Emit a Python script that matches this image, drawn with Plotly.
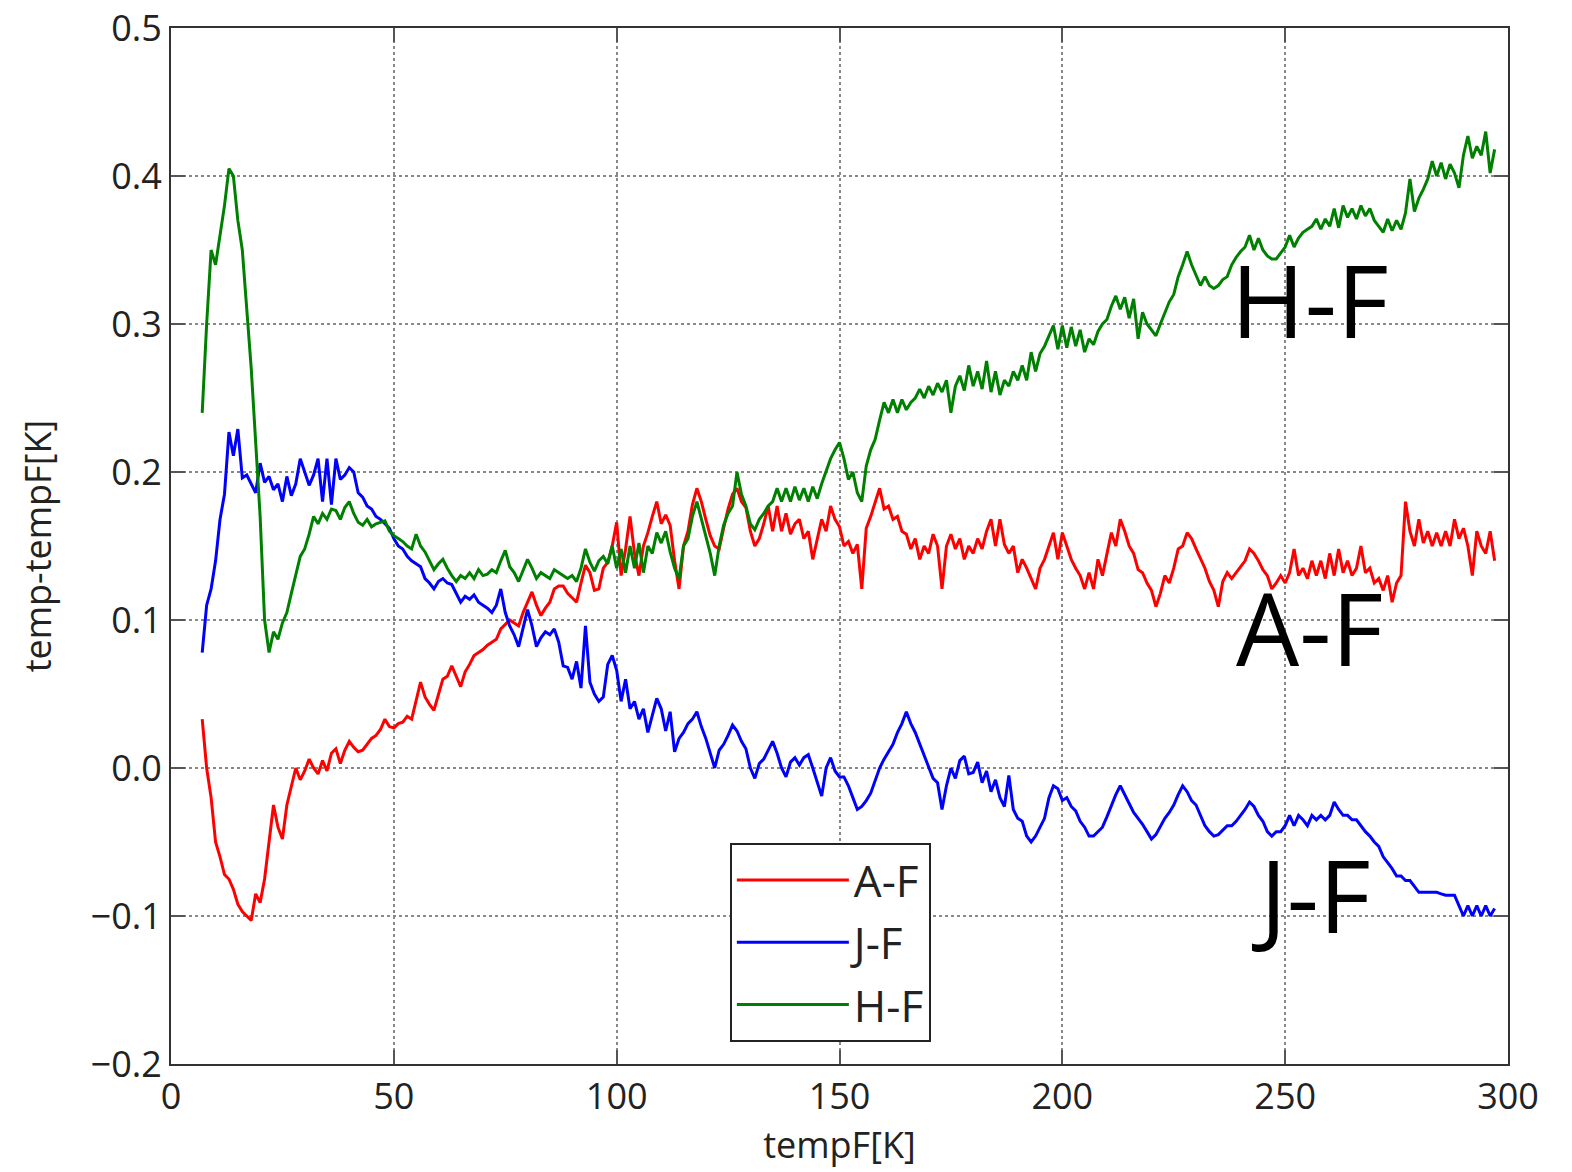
import plotly.graph_objects as go

# sample temperatures (K), one reading per kelvin
tempF = list(range(7, 298))

# temp - tempF differences
a_f = [
    0.033, 0.000, -0.020, -0.050, -0.060, -0.072, -0.075, -0.082, -0.092, -0.097,
    -0.100, -0.103, -0.085, -0.091, -0.075, -0.050, -0.025, -0.040, -0.048, -0.025,
    -0.013, 0.000, -0.008, -0.002, 0.006, 0.000, -0.004, 0.005, -0.002, 0.010,
    0.013, 0.003, 0.012, 0.018, 0.014, 0.011, 0.012, 0.016, 0.020, 0.022,
    0.026, 0.033, 0.028, 0.027, 0.030, 0.031, 0.035, 0.033, 0.045, 0.058,
    0.048, 0.043, 0.039, 0.050, 0.060, 0.062, 0.069, 0.062, 0.055, 0.065,
    0.070, 0.076, 0.078, 0.080, 0.083, 0.085, 0.087, 0.094, 0.097, 0.100,
    0.098, 0.096, 0.105, 0.112, 0.119, 0.110, 0.103, 0.108, 0.112, 0.121,
    0.123, 0.123, 0.118, 0.115, 0.112, 0.125, 0.137, 0.132, 0.120, 0.121,
    0.135, 0.139, 0.150, 0.166, 0.130, 0.148, 0.170, 0.145, 0.130, 0.150,
    0.159, 0.170, 0.180, 0.165, 0.171, 0.164, 0.140, 0.121, 0.150, 0.160,
    0.178, 0.189, 0.180, 0.168, 0.157, 0.150, 0.148, 0.162, 0.175, 0.185,
    0.189, 0.180, 0.176, 0.160, 0.150, 0.155, 0.165, 0.177, 0.160, 0.177,
    0.160, 0.172, 0.158, 0.165, 0.168, 0.155, 0.160, 0.141, 0.155, 0.168,
    0.160, 0.177, 0.168, 0.163, 0.150, 0.153, 0.145, 0.151, 0.121, 0.162,
    0.170, 0.180, 0.189, 0.175, 0.177, 0.168, 0.170, 0.160, 0.158, 0.148,
    0.155, 0.141, 0.150, 0.145, 0.158, 0.150, 0.121, 0.150, 0.158, 0.148,
    0.155, 0.141, 0.150, 0.145, 0.155, 0.148, 0.160, 0.168, 0.150, 0.168,
    0.151, 0.145, 0.150, 0.132, 0.141, 0.135, 0.128, 0.121, 0.135, 0.141,
    0.150, 0.159, 0.141, 0.159, 0.150, 0.141, 0.135, 0.130, 0.121, 0.132,
    0.121, 0.141, 0.130, 0.145, 0.159, 0.150, 0.168, 0.160, 0.150, 0.145,
    0.134, 0.132, 0.125, 0.120, 0.109, 0.118, 0.130, 0.125, 0.135, 0.148,
    0.150, 0.159, 0.155, 0.148, 0.141, 0.135, 0.126, 0.120, 0.109, 0.126,
    0.132, 0.128, 0.132, 0.136, 0.140, 0.148, 0.145, 0.140, 0.134, 0.130,
    0.121, 0.125, 0.130, 0.125, 0.132, 0.148, 0.130, 0.135, 0.128, 0.140,
    0.130, 0.140, 0.128, 0.145, 0.130, 0.148, 0.132, 0.140, 0.130, 0.135,
    0.150, 0.132, 0.135, 0.125, 0.128, 0.120, 0.130, 0.112, 0.125, 0.130,
    0.180, 0.160, 0.150, 0.168, 0.152, 0.160, 0.150, 0.159, 0.150, 0.160,
    0.150, 0.168, 0.155, 0.162, 0.150, 0.130, 0.160, 0.150, 0.145, 0.160,
    0.140,
]

j_f = [
    0.078, 0.110, 0.121, 0.140, 0.168, 0.185, 0.227, 0.211, 0.229, 0.196,
    0.198, 0.192, 0.186, 0.206, 0.193, 0.197, 0.188, 0.192, 0.180, 0.197,
    0.184, 0.192, 0.209, 0.200, 0.191, 0.198, 0.209, 0.180, 0.209, 0.178,
    0.209, 0.195, 0.198, 0.203, 0.200, 0.186, 0.183, 0.177, 0.175, 0.170,
    0.168, 0.165, 0.162, 0.155, 0.150, 0.148, 0.143, 0.140, 0.138, 0.136,
    0.128, 0.125, 0.121, 0.126, 0.128, 0.125, 0.124, 0.118, 0.112, 0.116,
    0.114, 0.117, 0.112, 0.110, 0.108, 0.105, 0.110, 0.121, 0.105, 0.096,
    0.090, 0.082, 0.095, 0.107, 0.096, 0.082, 0.088, 0.092, 0.090, 0.094,
    0.085, 0.069, 0.068, 0.060, 0.072, 0.054, 0.096, 0.058, 0.050, 0.045,
    0.048, 0.070, 0.076, 0.066, 0.045, 0.060, 0.040, 0.045, 0.033, 0.040,
    0.024, 0.035, 0.047, 0.040, 0.025, 0.038, 0.011, 0.020, 0.024, 0.030,
    0.033, 0.038, 0.028, 0.020, 0.010, 0.000, 0.012, 0.016, 0.022, 0.029,
    0.025, 0.018, 0.013, 0.000, -0.007, 0.003, 0.006, 0.012, 0.018, 0.010,
    0.000, -0.006, 0.004, 0.007, 0.002, 0.007, 0.009, 0.000, -0.010, -0.019,
    0.000, 0.007, -0.002, -0.006, -0.006, -0.012, -0.020, -0.028, -0.026, -0.022,
    -0.017, -0.008, 0.000, 0.006, 0.011, 0.016, 0.024, 0.030, 0.038, 0.030,
    0.024, 0.016, 0.008, 0.000, -0.007, -0.010, -0.028, -0.012, 0.000, -0.007,
    0.005, 0.008, -0.004, -0.003, 0.004, -0.010, -0.002, -0.016, -0.008, -0.020,
    -0.026, -0.005, -0.028, -0.034, -0.036, -0.046, -0.050, -0.046, -0.040, -0.034,
    -0.020, -0.012, -0.014, -0.022, -0.020, -0.026, -0.029, -0.036, -0.040, -0.046,
    -0.046, -0.043, -0.040, -0.033, -0.025, -0.018, -0.012, -0.018, -0.025, -0.030,
    -0.034, -0.038, -0.043, -0.048, -0.045, -0.039, -0.034, -0.030, -0.025, -0.018,
    -0.012, -0.016, -0.022, -0.025, -0.032, -0.039, -0.043, -0.046, -0.045, -0.042,
    -0.039, -0.039, -0.036, -0.032, -0.028, -0.023, -0.026, -0.032, -0.036, -0.043,
    -0.046, -0.043, -0.043, -0.039, -0.032, -0.039, -0.032, -0.035, -0.039, -0.032,
    -0.035, -0.032, -0.035, -0.032, -0.023, -0.028, -0.032, -0.032, -0.035, -0.035,
    -0.039, -0.043, -0.046, -0.050, -0.053, -0.060, -0.064, -0.068, -0.073, -0.073,
    -0.076, -0.076, -0.080, -0.084, -0.084, -0.084, -0.084, -0.084, -0.085, -0.086,
    -0.086, -0.086, -0.093, -0.100, -0.093, -0.100, -0.093, -0.100, -0.093, -0.100,
    -0.095,
]

h_f = [
    0.24, 0.30, 0.35, 0.34, 0.36, 0.38, 0.405, 0.40, 0.37, 0.35,
    0.31, 0.27, 0.22, 0.17, 0.10, 0.078, 0.092, 0.087, 0.098, 0.105,
    0.118, 0.130, 0.143, 0.148, 0.158, 0.170, 0.165, 0.172, 0.168, 0.175,
    0.174, 0.168, 0.176, 0.180, 0.172, 0.166, 0.164, 0.168, 0.163, 0.165,
    0.166, 0.167, 0.160, 0.157, 0.155, 0.153, 0.150, 0.148, 0.158, 0.150,
    0.146, 0.140, 0.134, 0.138, 0.141, 0.135, 0.130, 0.126, 0.130, 0.128,
    0.132, 0.128, 0.134, 0.130, 0.131, 0.134, 0.132, 0.140, 0.147, 0.136,
    0.132, 0.126, 0.134, 0.141, 0.135, 0.128, 0.132, 0.130, 0.128, 0.134,
    0.132, 0.130, 0.128, 0.130, 0.126, 0.135, 0.148, 0.139, 0.133, 0.140,
    0.143, 0.138, 0.150, 0.135, 0.148, 0.132, 0.150, 0.135, 0.152, 0.132,
    0.150, 0.145, 0.159, 0.152, 0.160, 0.146, 0.135, 0.128, 0.150, 0.155,
    0.170, 0.180, 0.168, 0.157, 0.145, 0.130, 0.150, 0.164, 0.172, 0.177,
    0.200, 0.185, 0.177, 0.165, 0.161, 0.168, 0.172, 0.177, 0.180, 0.189,
    0.180, 0.189, 0.180, 0.190, 0.181, 0.189, 0.180, 0.190, 0.182, 0.192,
    0.200, 0.209, 0.215, 0.220, 0.209, 0.195, 0.200, 0.186, 0.180, 0.204,
    0.215, 0.222, 0.235, 0.247, 0.240, 0.249, 0.240, 0.249, 0.242, 0.247,
    0.250, 0.256, 0.250, 0.258, 0.252, 0.260, 0.254, 0.262, 0.240, 0.258,
    0.265, 0.255, 0.272, 0.258, 0.268, 0.256, 0.275, 0.254, 0.268, 0.252,
    0.262, 0.258, 0.268, 0.262, 0.272, 0.262, 0.281, 0.268, 0.280, 0.285,
    0.292, 0.299, 0.283, 0.299, 0.284, 0.298, 0.285, 0.296, 0.281, 0.290,
    0.286, 0.295, 0.300, 0.303, 0.312, 0.319, 0.310, 0.318, 0.304, 0.317,
    0.290, 0.308, 0.300, 0.296, 0.292, 0.300, 0.308, 0.315, 0.320, 0.332,
    0.340, 0.349, 0.340, 0.333, 0.326, 0.332, 0.326, 0.324, 0.326, 0.330,
    0.332, 0.340, 0.345, 0.349, 0.352, 0.360, 0.350, 0.358, 0.350, 0.346,
    0.344, 0.344, 0.348, 0.352, 0.360, 0.352, 0.358, 0.362, 0.364, 0.366,
    0.371, 0.364, 0.371, 0.366, 0.378, 0.365, 0.380, 0.372, 0.378, 0.371,
    0.380, 0.373, 0.378, 0.370, 0.366, 0.362, 0.371, 0.363, 0.370, 0.364,
    0.375, 0.398, 0.376, 0.385, 0.391, 0.398, 0.410, 0.400, 0.409, 0.398,
    0.408, 0.402, 0.392, 0.414, 0.427, 0.412, 0.420, 0.414, 0.430, 0.402,
    0.418,
]

series = [("A-F", a_f, "#ff0000"), ("J-F", j_f, "#0000ff"), ("H-F", h_f, "#008000")]

# big labels next to the curve ends: (text, x, y)
labels = [("H-F", 255.5, 0.317), ("A-F", 255.5, 0.095), ("J-F", 255.8, -0.085)]

fig = go.Figure()
for name, vals, col in series:
    fig.add_trace(go.Scatter(
        x=tempF, y=vals, mode="lines", name=name, legendgroup=name,
        line=dict(color=col, width=3),
    ))

for txt, lx, ly in labels:
    fig.add_annotation(x=lx, y=ly, text=txt, showarrow=False,
                       font=dict(family="Open Sans", size=100, color="black"),
                       xanchor="center", yanchor="middle")

axis_style = dict(
    showline=True, linecolor="#333333", linewidth=2, mirror="ticks",
    ticks="inside", ticklen=14, tickwidth=2, tickcolor="#555555",
    showgrid=True, gridcolor="#888888", gridwidth=1.5, griddash="dot",
    zeroline=False, automargin=False,
    tickfont=dict(family="Open Sans", size=36, color="#222222"),
)

fig.update_xaxes(range=[0, 300], dtick=50, tick0=0, **axis_style,
                 title=dict(text="tempF[K]", standoff=8,
                            font=dict(family="Open Sans", size=36, color="#222222")))
fig.update_yaxes(range=[-0.2, 0.5], dtick=0.1, tick0=0, tickformat=".1f", **axis_style,
                 title=dict(text="temp-tempF[K]", standoff=28,
                            font=dict(family="Open Sans", size=36, color="#222222")))

fig.update_layout(
    width=1572, height=1172,
    margin=dict(l=171, r=64, t=28, b=108),
    plot_bgcolor="white", paper_bgcolor="white",
    showlegend=True,
    legend=dict(
        x=0.418, y=0.2133, xanchor="left", yanchor="top",
        bordercolor="#222222", borderwidth=2, bgcolor="white",
        font=dict(family="Open Sans", size=44, color="#222222"),
        tracegroupgap=2, itemwidth=112,
    ),
)

fig.write_html("out.html", config={"displayModeBar": False},
               post_script="document.body.style.margin='0';")
